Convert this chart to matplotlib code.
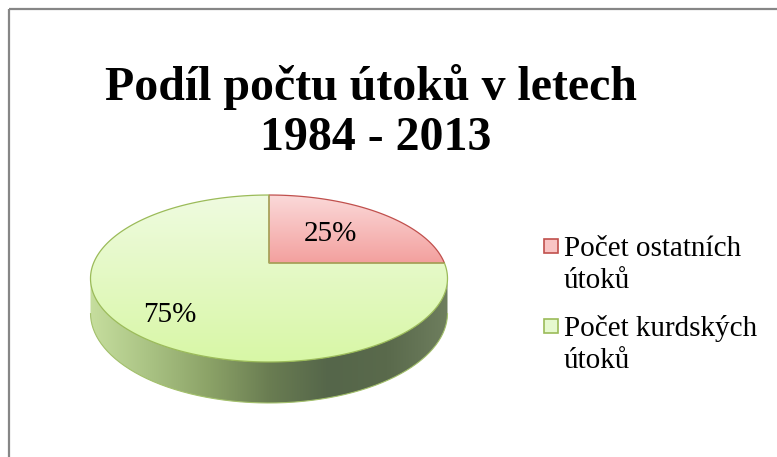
import numpy as np
import matplotlib
matplotlib.use("Agg")
import matplotlib.pyplot as plt
from matplotlib.patches import Polygon, Rectangle
from matplotlib.colors import LinearSegmentedColormap

# ---- data ----
title_lines = ["Podíl počtu útoků v letech", "1984 - 2013"]
categories = ["Počet ostatních\nútoků", "Počet kurdských\nútoků"]
values = [25, 75]
labels = ["25%", "75%"]

# ---- style ----
top_grad = [("#fbd9d9", "#f3a09e"), ("#effbe0", "#d8f7a6")]
edge_cols = ["#c0504d", "#9bbb59"]
legend_face = ["#f9c4c4", "#e6f9cf"]
side_colors = ["#c6de9e", "#a9c283", "#8ba267", "#6a7d52", "#55664a", "#5a6a4c", "#6e7e5e"]
serif = ["Liberation Serif", "DejaVu Serif"]

W, H = 777, 457
fig = plt.figure(figsize=(W / 100, H / 100), dpi=100)
ax = fig.add_axes([0, 0, 1, 1])
ax.set_xlim(0, W)
ax.set_ylim(H, 0)
ax.axis("off")

# chart border
ax.add_patch(Rectangle((8.5, 8.5), W + 20, H + 20, fill=False, edgecolor="#868686", lw=1.6))

# pie geometry (perspective projection of a disc)
cx, cy = 269, 263
a, b, q, h = 175.4, 80.6, 0.1856, 33.4


def proj(theta, depth=0.0):
    w = 1 + q * np.sin(theta)
    x = cx + a * np.cos(theta) / w
    y = cy - b * np.sin(theta) / w + depth / w
    return x, y


def grad_fill(poly, c1, c2, horizontal=False, stops=None):
    verts = poly.get_xy()
    x0, x1 = verts[:, 0].min(), verts[:, 0].max()
    y0, y1 = verts[:, 1].min(), verts[:, 1].max()
    if stops is not None:
        cmap = LinearSegmentedColormap.from_list("g", stops)
    else:
        cmap = LinearSegmentedColormap.from_list("g", [c1, c2])
    g = np.linspace(0, 1, 256)
    img = g[None, :] if horizontal else g[:, None]
    im = ax.imshow(img, cmap=cmap, extent=(x0, x1, y1, y0), aspect="auto",
                   interpolation="bilinear", zorder=poly.get_zorder())
    im.set_clip_path(poly)


# side of the cylinder
t0 = np.pi + np.arcsin(q)
t1 = 2 * np.pi - np.arcsin(q)
ts = np.linspace(t0, t1, 200)
tx, ty = proj(ts)
bx, by = proj(ts, h)
side = Polygon(np.column_stack([np.r_[tx, bx[::-1]], np.r_[ty, by[::-1]]]),
               closed=True, facecolor="none", edgecolor="none", zorder=1)
ax.add_patch(side)
grad_fill(side, None, None, horizontal=True, stops=side_colors)
ax.add_patch(Polygon(np.column_stack([bx, by]), closed=False, fill=False,
                     edgecolor="#a3c06c", lw=0.8, zorder=1.5))

# top face slices (clockwise from 12 o'clock)
total = sum(values)
start = np.pi / 2
for i, v in enumerate(values):
    end = start - 2 * np.pi * v / total
    th = np.linspace(start, end, 300)
    px, py = proj(th)
    pts = np.column_stack([np.r_[cx, px], np.r_[cy, py]])
    poly = Polygon(pts, closed=True, facecolor="none", edgecolor="none", zorder=2)
    ax.add_patch(poly)
    grad_fill(poly, top_grad[i][0], top_grad[i][1])
    ax.add_patch(Polygon(pts, closed=True, fill=False, edgecolor=edge_cols[i],
                         lw=0.9, zorder=3))
    start = end

# data labels
label_pos = [(330, 234), (170, 315)]
for (lx, ly), t in zip(label_pos, labels):
    ax.text(lx, ly, t, ha="center", va="center", fontsize=21, family=serif,
            color="black", zorder=5)

# title
ax.text(371, 100, title_lines[0], ha="center", va="baseline", fontsize=34.5,
        fontweight="bold", family=serif)
ax.text(376, 150, title_lines[1], ha="center", va="baseline", fontsize=34.5,
        fontweight="bold", family=serif)

# legend
leg_y = [246, 326]
for i, cat in enumerate(categories):
    ax.add_patch(Rectangle((543.5, leg_y[i] - 7), 14, 14, facecolor=legend_face[i],
                           edgecolor=edge_cols[i], lw=1.2, zorder=5))
    for j, line in enumerate(cat.split("\n")):
        ax.text(564, leg_y[i] + 10 + 32 * j, line, ha="left", va="baseline",
                fontsize=21, family=serif)

fig.savefig("out.png", dpi=100)
